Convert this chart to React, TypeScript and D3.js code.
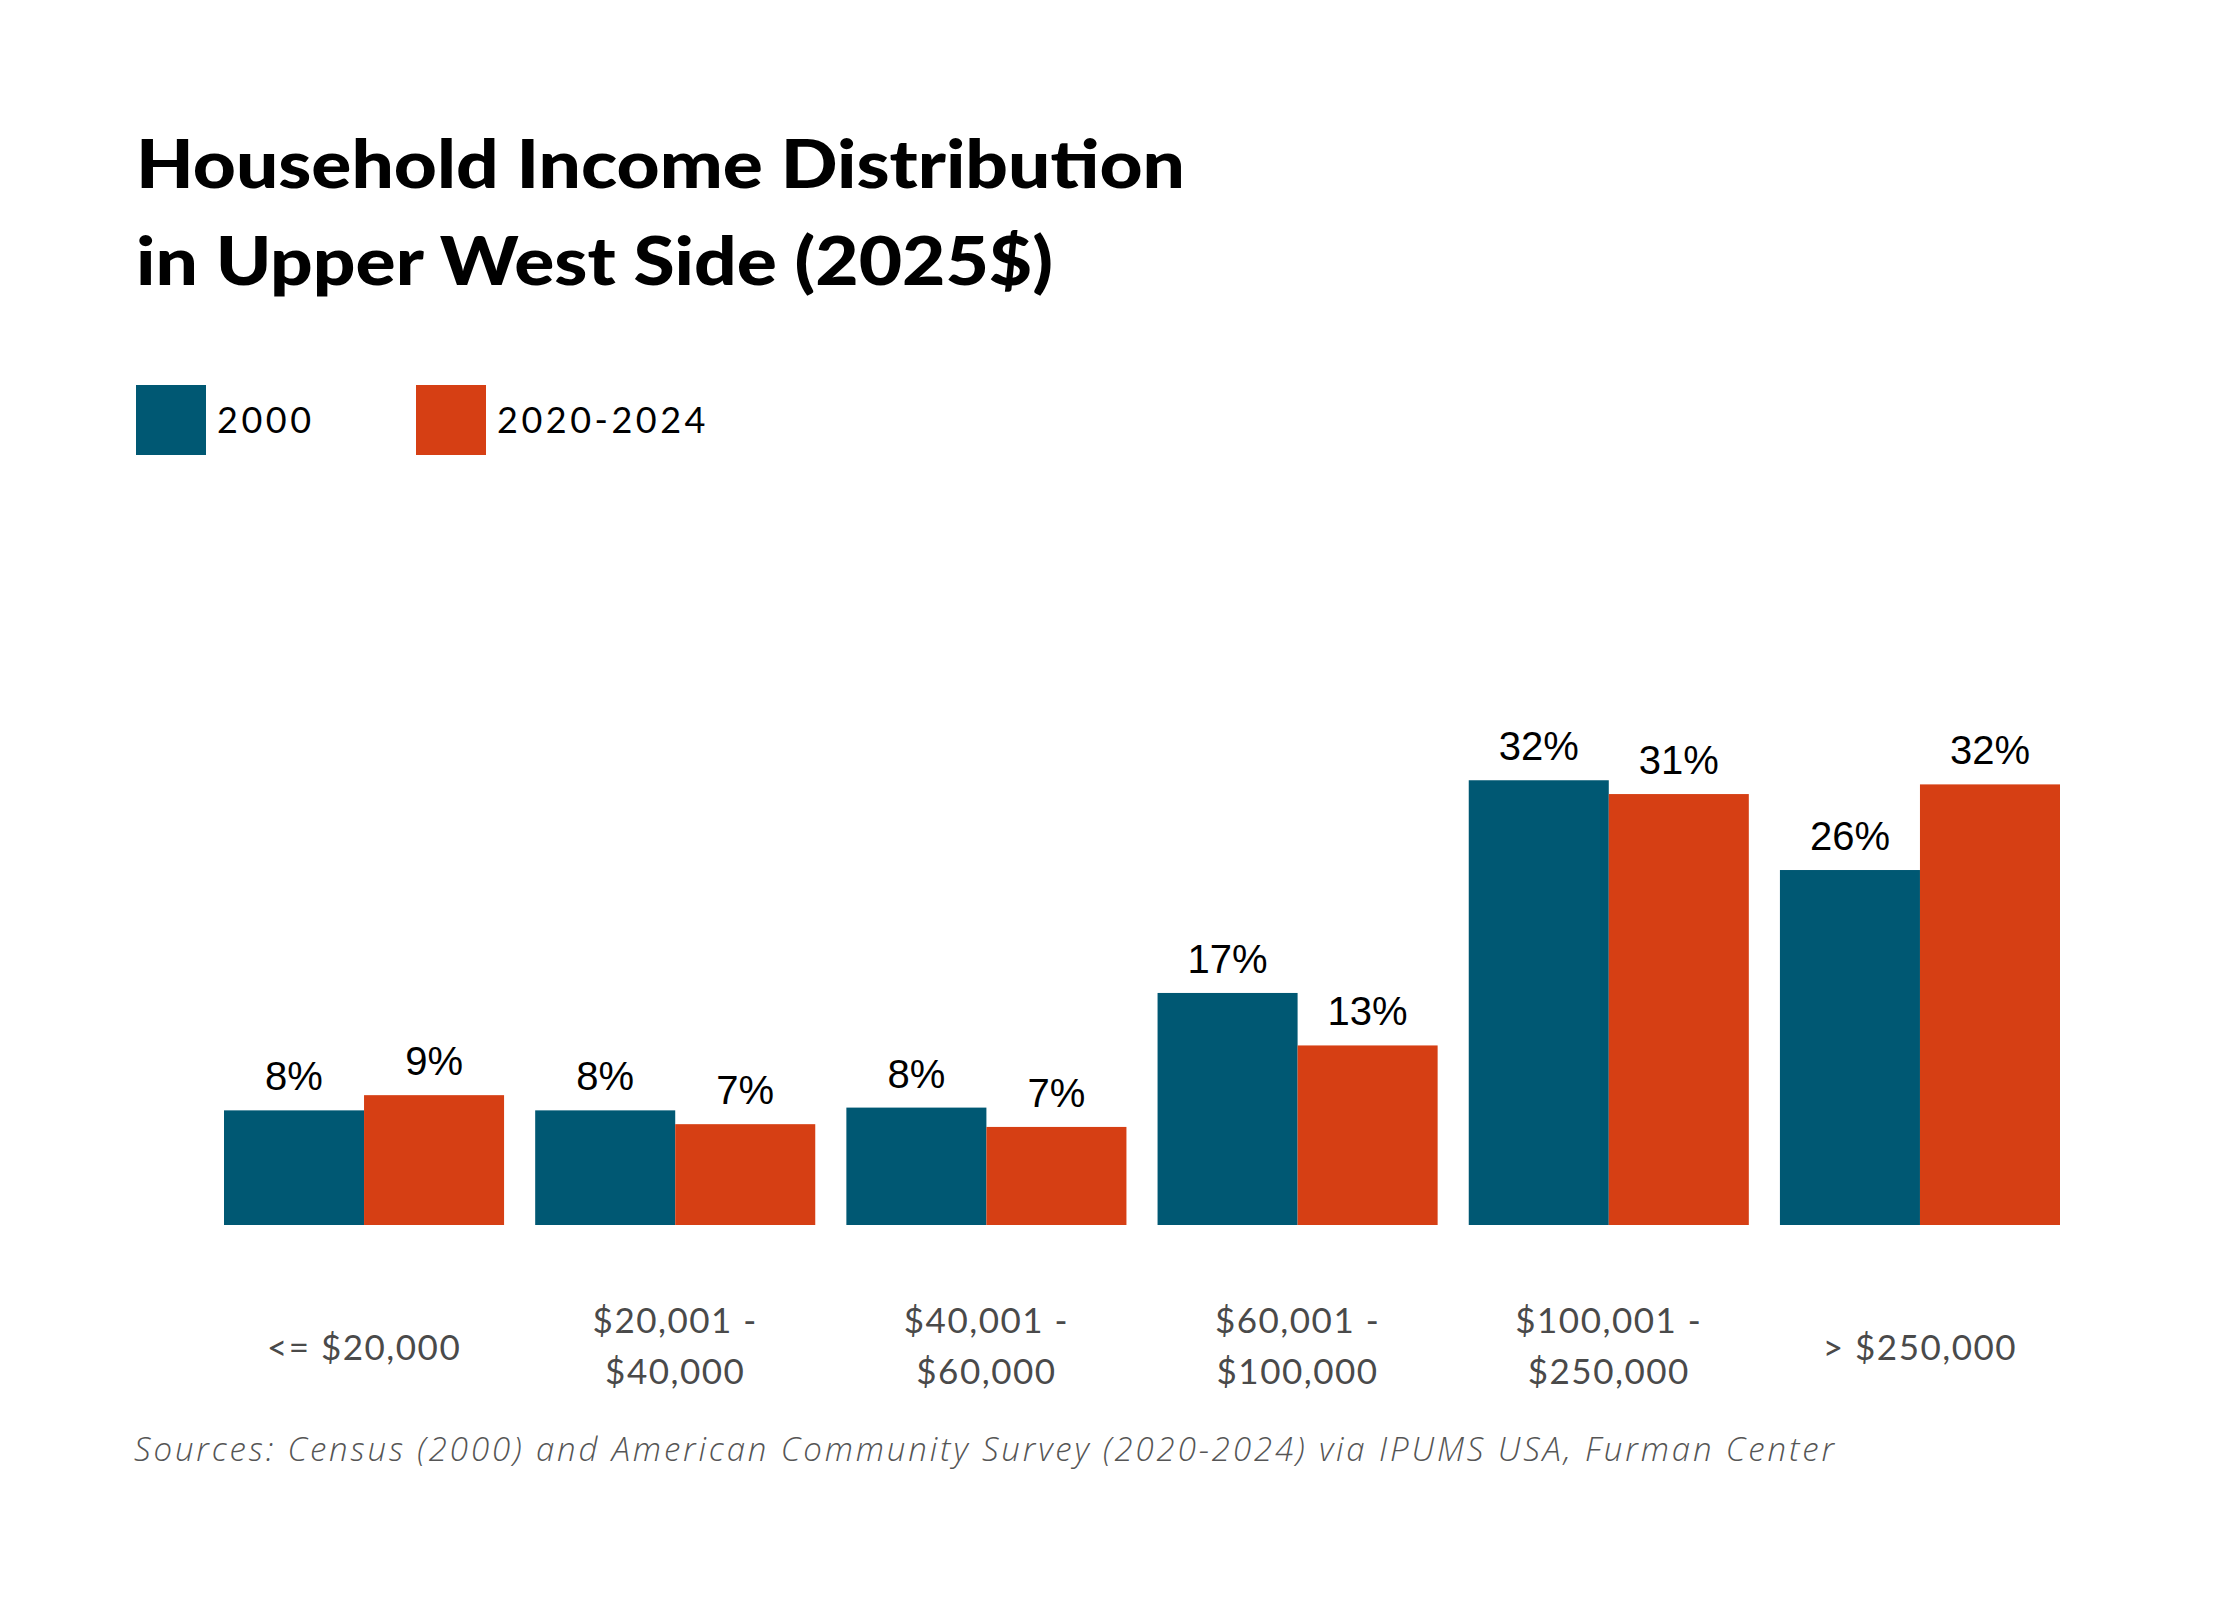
import React from "react";
import * as d3 from "d3";

const categories = ["<= $20,000", "$20,001 - $40,000", "$40,001 - $60,000", "$60,001 - $100,000", "$100,001 - $250,000", "> $250,000"];
const categoryLines = [["<= $20,000"], ["$20,001 -", "$40,000"], ["$40,001 -", "$60,000"], ["$60,001 -", "$100,000"], ["$100,001 -", "$250,000"], ["> $250,000"]];
const seriesNames = ["2000", "2020-2024"];
const values2000 = [8.3, 8.3, 8.5, 16.8, 32.2, 25.7];
const values2020 = [9.4, 7.3, 7.1, 13.0, 31.2, 31.9];
const labels2000 = ["8%", "8%", "8%", "17%", "32%", "26%"];
const labels2020 = ["9%", "7%", "7%", "13%", "31%", "32%"];
const colors = ["#005873", "#d63f14"];

const W = 2240;
const H = 1600;

export default function App() {
  const x = d3.scaleBand<string>().domain(categories).range([224, 2060]).paddingInner(0.1).paddingOuter(0);
  const xs = d3.scaleBand<string>().domain(seriesNames).range([0, x.bandwidth()]).padding(0);
  const y = d3.scaleLinear().domain([0, 36.2]).range([1225, 725]);
  const series = [
    { name: seriesNames[0], values: values2000, labels: labels2000, color: colors[0] },
    { name: seriesNames[1], values: values2020, labels: labels2020, color: colors[1] },
  ];
  return (
    <svg width={W} height={H} style={{ display: "block", position: "absolute", left: 0, top: 0 }}>
      <rect width={W} height={H} fill="#fff" />
      <text x={136} y={188} fontFamily="Lato" fontWeight={900} fontSize={66} fill="#000" textLength={1049} lengthAdjust="spacingAndGlyphs">Household Income Distribution</text>
      <text x={136} y={285} fontFamily="Lato" fontWeight={900} fontSize={66} fill="#000" textLength={917} lengthAdjust="spacingAndGlyphs">in Upper West Side (2025$)</text>
      {series.map((s, i) => (
        <g key={s.name} transform={`translate(${i === 0 ? 136 : 416},385)`}>
          <rect width={70} height={70} fill={s.color} />
          <text x={81} y={48} fontFamily="Lato" fontSize={36} letterSpacing={3.5} fill="#000">{s.name}</text>
        </g>
      ))}
      {series.map((s) => (
        <g key={s.name}>
          {categories.map((c, j) => {
            const bx = (x(c) as number) + (xs(s.name) as number);
            return (
              <g key={c}>
                <rect x={bx} y={y(s.values[j])} width={xs.bandwidth()} height={y(0) - y(s.values[j])} fill={s.color} />
                <text x={bx + xs.bandwidth() / 2} y={y(s.values[j]) - 20} textAnchor="middle" fontFamily="Liberation Sans, Arial" fontSize={40} fill="#000">{s.labels[j]}</text>
              </g>
            );
          })}
        </g>
      ))}
      {categories.map((c, j) => {
        const cx = (x(c) as number) + x.bandwidth() / 2;
        const lines = categoryLines[j];
        return (
          <text key={c} textAnchor="middle" fontFamily="Lato" fontSize={35} letterSpacing={1.5} fill="#4a4a4a">
            {lines.length === 1 ? (
              <tspan x={cx} y={1360}>{lines[0]}</tspan>
            ) : (
              lines.map((l, k) => (
                <tspan key={k} x={cx} y={1333 + k * 51}>{l}</tspan>
              ))
            )}
          </text>
        );
      })}
      <text x={134} y={1461} fontFamily="Open Sans" fontStyle="italic" fontWeight={300} fontSize={33} fill="#555" textLength={1700} lengthAdjust="spacing">Sources: Census (2000) and American Community Survey (2020-2024) via IPUMS USA, Furman Center</text>
    </svg>
  );
}
